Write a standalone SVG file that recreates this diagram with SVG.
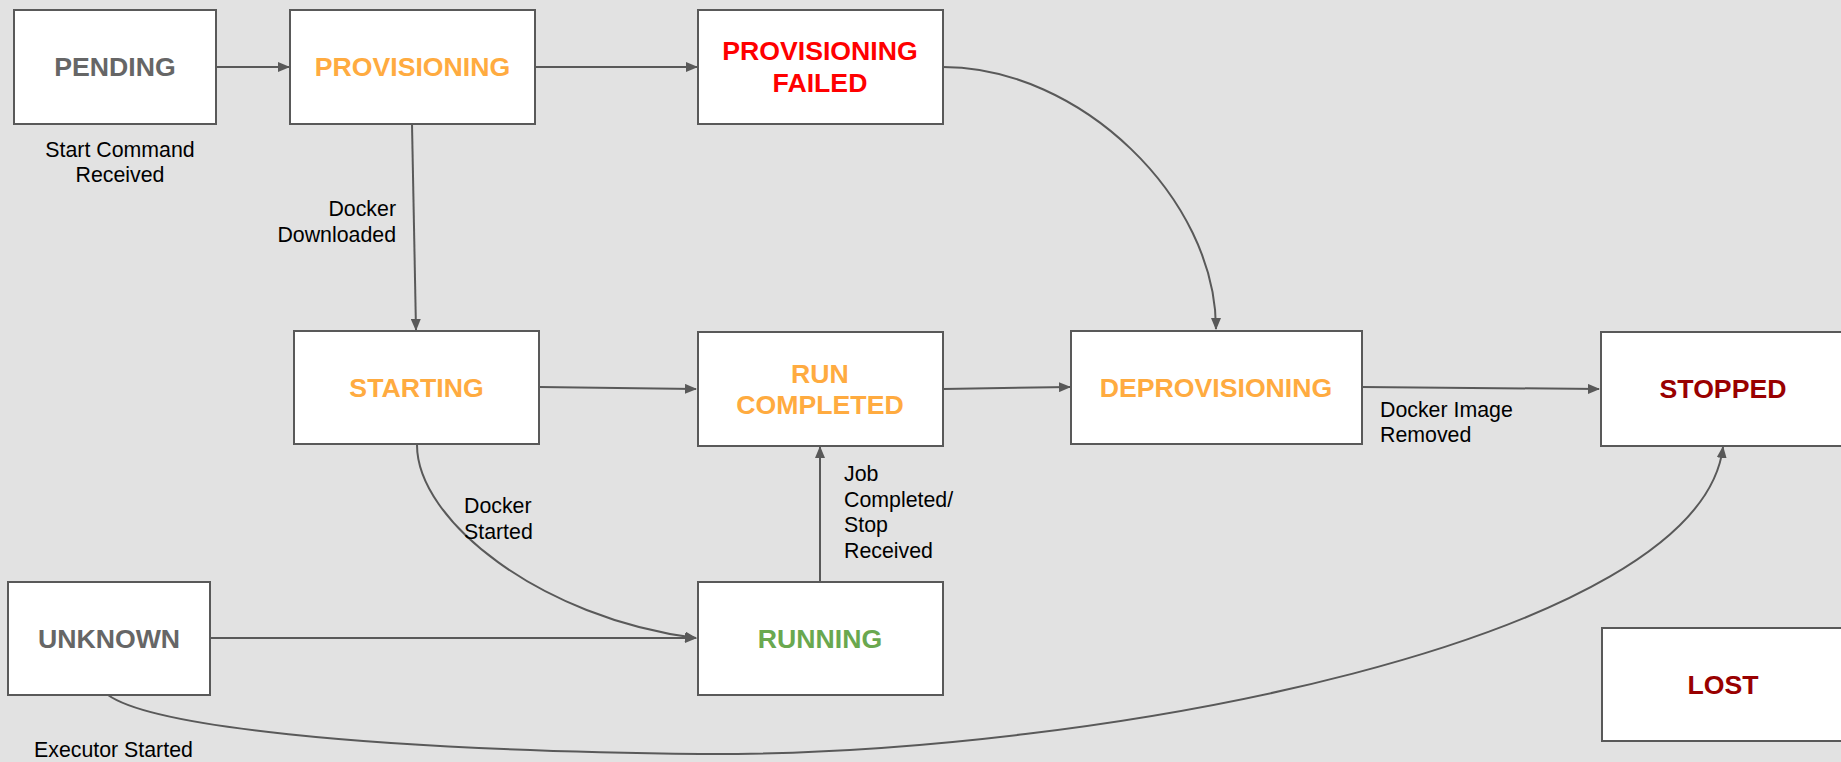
<svg xmlns="http://www.w3.org/2000/svg" width="1841" height="762" viewBox="0 0 1841 762">
  <style>
    .box { fill: #ffffff; stroke: #595959; stroke-width: 2; }
    .state { font-family: "Liberation Sans", Arial, sans-serif; font-weight: bold; font-size: 26.67px; text-anchor: middle; }
    .grey { fill: #666666; }
    .orange { fill: #ffab40; }
    .red { fill: #ff0000; }
    .dark { fill: #990000; }
    .green { fill: #6aa84f; }
    .label { font-family: "Liberation Sans", Arial, sans-serif; font-size: 21.33px; fill: #000000; }
    .edge { fill: none; stroke: #595959; stroke-width: 2; marker-end: url(#arrow); }
  </style>
  <defs>
    <marker id="arrow" viewBox="0 0 12 10" refX="11" refY="5" markerWidth="12" markerHeight="10" markerUnits="userSpaceOnUse" orient="auto">
      <path d="M0,0 L12,5 L0,10 Z" fill="#595959"/>
    </marker>
  </defs>

  <rect width="1841" height="762" fill="#e2e2e2"/>

  <!-- transitions -->
  <g id="connectors">
    <path class="edge" d="M216,67 L289,67"/>
    <path class="edge" d="M535,67 L697,67"/>
    <path class="edge" d="M412,124 L416,330"/>
    <path class="edge" d="M943,67 C1080,67 1216,198 1216,329"/>
    <path class="edge" d="M539,387 L696,389"/>
    <path class="edge" d="M943,389 L1070,387"/>
    <path class="edge" d="M1362,387 L1599,389"/>
    <path class="edge" d="M820,581 L820,447"/>
    <path class="edge" d="M417,445 C417,520 540,618 696,638"/>
    <path class="edge" d="M210,638 L696,638"/>
    <path class="edge" d="M108,695 C150,725 350,750 700,754 C1100,756 1700,640 1723,447"/>

    <text class="label" x="120" y="157" text-anchor="middle">Start Command</text>
    <text class="label" x="120" y="182" text-anchor="middle">Received</text>
    <text class="label" x="396" y="216" text-anchor="end">Docker</text>
    <text class="label" x="396" y="242" text-anchor="end">Downloaded</text>
    <text class="label" x="464" y="513">Docker</text>
    <text class="label" x="464" y="539">Started</text>
    <text class="label" x="844" y="481">Job</text>
    <text class="label" x="844" y="507">Completed/</text>
    <text class="label" x="844" y="532">Stop</text>
    <text class="label" x="844" y="558">Received</text>
    <text class="label" x="1380" y="417">Docker Image</text>
    <text class="label" x="1380" y="442">Removed</text>
    <text class="label" x="34" y="757">Executor Started</text>
  </g>

  <!-- states -->
  <g id="pending">
    <rect class="box" x="14" y="10" width="202" height="114"/>
    <text class="state grey" x="115" y="76">PENDING</text>
  </g>
  <g id="provisioning">
    <rect class="box" x="290" y="10" width="245" height="114"/>
    <text class="state orange" x="412.5" y="76">PROVISIONING</text>
  </g>
  <g id="provisioning-failed">
    <rect class="box" x="698" y="10" width="245" height="114"/>
    <text class="state red" x="820" y="60">PROVISIONING</text>
    <text class="state red" x="820" y="92">FAILED</text>
  </g>
  <g id="starting">
    <rect class="box" x="294" y="331" width="245" height="113"/>
    <text class="state orange" x="416.5" y="397">STARTING</text>
  </g>
  <g id="run-completed">
    <rect class="box" x="698" y="332" width="245" height="114"/>
    <text class="state orange" x="820" y="383">RUN</text>
    <text class="state orange" x="820" y="414">COMPLETED</text>
  </g>
  <g id="deprovisioning">
    <rect class="box" x="1071" y="331" width="291" height="113"/>
    <text class="state orange" x="1216" y="397">DEPROVISIONING</text>
  </g>
  <g id="stopped">
    <rect class="box" x="1601" y="332" width="244" height="114"/>
    <text class="state dark" x="1723" y="398">STOPPED</text>
  </g>
  <g id="unknown">
    <rect class="box" x="8" y="582" width="202" height="113"/>
    <text class="state grey" x="109" y="648">UNKNOWN</text>
  </g>
  <g id="running">
    <rect class="box" x="698" y="582" width="245" height="113"/>
    <text class="state green" x="820" y="648">RUNNING</text>
  </g>
  <g id="lost">
    <rect class="box" x="1602" y="628" width="244" height="113"/>
    <text class="state dark" x="1723" y="694">LOST</text>
  </g>
</svg>
